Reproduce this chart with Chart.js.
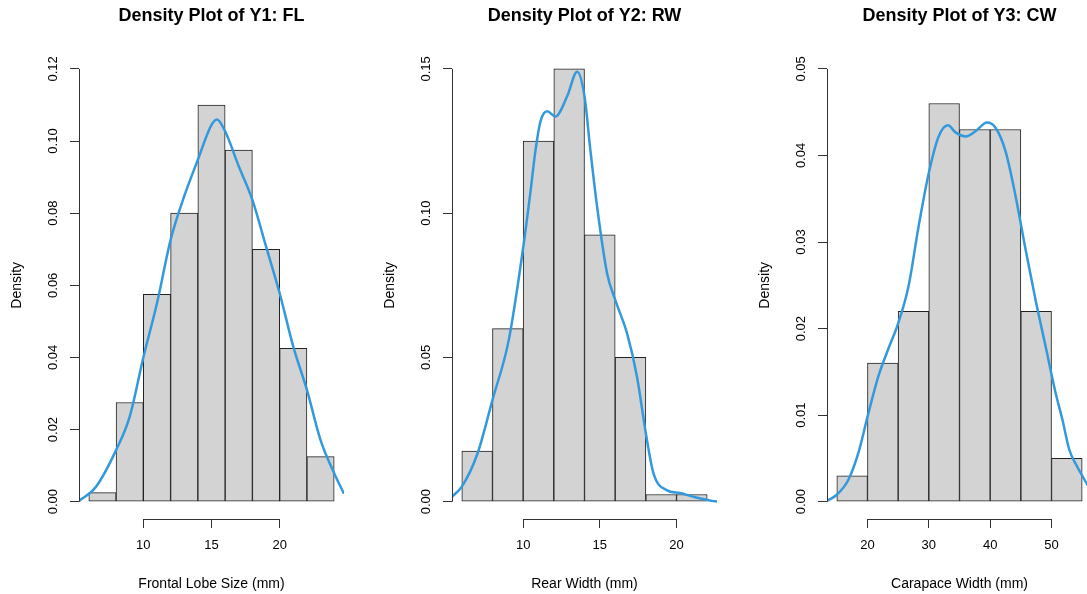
<!DOCTYPE html>
<html lang="en">
<head>
<meta charset="UTF-8">
<title>Density Plots</title>
<style>
  body { margin: 0; width: 1087px; height: 594px; overflow: hidden; background: #fff; position: relative; }
  .panel { position: absolute; top: 0; width: 374px; height: 594px; }
</style>
</head>
<body>
<div class="panel" style="left:0px"><canvas id="c1" width="374" height="594"></canvas></div>
<div class="panel" style="left:373px"><canvas id="c2" width="374" height="594"></canvas></div>
<div class="panel" style="left:748px"><canvas id="c3" width="374" height="594"></canvas></div>
<script src="https://cdn.jsdelivr.net/npm/chart.js"></script>
<script>
// Y1: frontal lobe size, bins of width 2 (centres)
const flBins = [7, 9, 11, 13, 15, 17, 19, 21, 23];
const flDensity = [0.0025, 0.0275, 0.0575, 0.08, 0.11, 0.0975, 0.07, 0.0425, 0.0125];
const flCurveX = [5.28, 6.5, 8, 9, 10, 11, 12, 13, 14, 15, 15.4, 16, 17, 18, 19, 20, 21, 22, 23, 24, 24.72];
const flCurveY = [0.0002, 0.004, 0.0143, 0.0236, 0.040, 0.055, 0.0726, 0.0847, 0.0948, 0.1045, 0.106, 0.1027, 0.093, 0.0837, 0.0708, 0.0578, 0.043, 0.031, 0.0171, 0.0079, 0.0022];
const flXTicks = [10, 15, 20];
const flYTicks = [0, 0.02, 0.04, 0.06, 0.08, 0.10, 0.12];

// Y2: rear width
const rwBins = [7, 9, 11, 13, 15, 17, 19, 21];
const rwDensity = [0.0175, 0.06, 0.125, 0.15, 0.0925, 0.05, 0.0025, 0.0025];
const rwCurveX = [5.36, 6.0, 7.03, 8.0, 9.06, 10.0, 10.49, 10.81, 11.14, 11.57, 12.1, 12.87, 13.52, 14.0, 14.38, 14.82, 15.47, 16.0, 16.77, 17.42, 18.0, 18.5, 19.36, 20.23, 21.1, 22.4, 22.64];
const rwCurveY = [0.0017, 0.0052, 0.0168, 0.0353, 0.056, 0.088, 0.108, 0.122, 0.132, 0.1353, 0.1335, 0.1405, 0.149, 0.1405, 0.122, 0.1023, 0.0792, 0.070, 0.0584, 0.0434, 0.0237, 0.0098, 0.004, 0.003, 0.0017, 0.0002, 0.0001];
const rwXTicks = [10, 15, 20];
const rwYTicks = [0, 0.05, 0.10, 0.15];

// Y3: carapace width, bins of width 5
const cwBins = [17.5, 22.5, 27.5, 32.5, 37.5, 42.5, 47.5, 52.5];
const cwDensity = [0.003, 0.016, 0.022, 0.046, 0.043, 0.043, 0.022, 0.005];
const cwCurveX = [13.4, 15.0, 16.87, 18.5, 20.0, 21.78, 23.42, 25.0, 26.69, 28.33, 30.0, 31.6, 33.13, 34.3, 36.0, 37.6, 39.5, 40.87, 42.5, 44.14, 45.78, 47.4, 49.05, 50.69, 51.8, 52.9, 54.0, 55.0, 56.2, 56.6];
const cwCurveY = [0.0001, 0.0008, 0.0025, 0.0056, 0.0098, 0.0145, 0.0177, 0.0206, 0.0249, 0.0318, 0.038, 0.0422, 0.0435, 0.0427, 0.0422, 0.0428, 0.0438, 0.0432, 0.0405, 0.0353, 0.0291, 0.0233, 0.0179, 0.0125, 0.0094, 0.0060, 0.0043, 0.0030, 0.0016, 0.0013];
const cwXTicks = [20, 30, 40, 50];
const cwYTicks = [0, 0.01, 0.02, 0.03, 0.04, 0.05];

Chart.defaults.font.family = "'Liberation Sans', Arial, sans-serif";
Chart.defaults.color = '#000';

const axisColor = '#333';

// R style axis: line only from first to last tick
const rAxisLines = {
  id: 'rAxisLines',
  afterDraw(chart) {
    const {ctx, chartArea, scales} = chart;
    const x = scales.x, y = scales.y;
    const by = Math.round(chartArea.bottom) + 0.5;
    const lx = Math.round(chartArea.left) + 0.5;
    ctx.save();
    ctx.strokeStyle = axisColor;
    ctx.lineWidth = 1;
    ctx.beginPath();
    ctx.moveTo(x.getPixelForValue(x.ticks[0].value), by);
    ctx.lineTo(x.getPixelForValue(x.ticks[x.ticks.length - 1].value), by);
    ctx.moveTo(lx, y.getPixelForValue(y.ticks[0].value));
    ctx.lineTo(lx, y.getPixelForValue(y.ticks[y.ticks.length - 1].value));
    ctx.stroke();
    ctx.restore();
  }
};

function makePanel(id, title, xTitle, bins, dens, cx, cy, xTicks, yTicks, xMin, xMax, yMax) {
  const yPad = yMax * 0.04;
  new Chart(document.getElementById(id), {
    type: 'bar',
    data: {
      datasets: [{
        type: 'line',
        data: cx.map((v, i) => ({x: v, y: cy[i]})),
        borderColor: '#3399dd',
        borderWidth: 2.5,
        pointRadius: 0,
        tension: 0.4,
        cubicInterpolationMode: 'monotone',
        fill: false,
        clip: 0,
        order: 0
      }, {
        type: 'bar',
        data: bins.map((v, i) => ({x: v, y: dens[i]})),
        backgroundColor: '#d3d3d3',
        borderColor: '#222',
        borderWidth: 1,
        borderSkipped: false,
        barPercentage: 1,
        categoryPercentage: 1,
        order: 1
      }]
    },
    options: {
      responsive: false,
      animation: false,
      events: [],
      layout: {padding: {left: 0, right: 30, top: 0, bottom: 0}},
      plugins: {
        legend: {display: false},
        tooltip: {enabled: false},
        title: {
          display: true,
          text: title,
          fullSize: false,
          font: {size: 18, weight: 'bold'},
          padding: {top: 5.5, bottom: 24.5}
        }
      },
      scales: {
        x: {
          type: 'linear',
          min: xMin,
          max: xMax,
          offset: false,
          afterBuildTicks: s => { s.ticks = xTicks.map(v => ({value: v})); },
          afterFit: s => { s.height = 75; },
          grid: {drawOnChartArea: false, drawTicks: true, tickLength: 9, color: axisColor, offset: false},
          border: {display: false},
          ticks: {autoSkip: false, maxRotation: 0, padding: 10, font: {size: 13}, callback: v => String(v)},
          title: {display: true, text: xTitle, font: {size: 14}, padding: {top: 0, bottom: 1}}
        },
        y: {
          type: 'linear',
          min: -yPad,
          max: yMax + yPad,
          afterBuildTicks: s => { s.ticks = yTicks.map(v => ({value: v})); },
          afterFit: s => { s.width = 79; },
          grid: {drawOnChartArea: false, drawTicks: true, tickLength: 9, color: axisColor},
          border: {display: false},
          ticks: {minRotation: 90, maxRotation: 90, crossAlign: 'center', padding: 4, font: {size: 13}, callback: v => v.toFixed(2)},
          title: {display: true, text: 'Density', font: {size: 14}, padding: {top: 9, bottom: 0}}
        }
      }
    },
    plugins: [rAxisLines]
  });
}

makePanel('c1', 'Density Plot of Y1: FL', 'Frontal Lobe Size (mm)', flBins, flDensity, flCurveX, flCurveY, flXTicks, flYTicks, 5.28, 24.72, 0.12);
makePanel('c2', 'Density Plot of Y2: RW', 'Rear Width (mm)', rwBins, rwDensity, rwCurveX, rwCurveY, rwXTicks, rwYTicks, 5.36, 22.64, 0.15);
makePanel('c3', 'Density Plot of Y3: CW', 'Carapace Width (mm)', cwBins, cwDensity, cwCurveX, cwCurveY, cwXTicks, cwYTicks, 13.4, 56.6, 0.05);
</script>
</body>
</html>
